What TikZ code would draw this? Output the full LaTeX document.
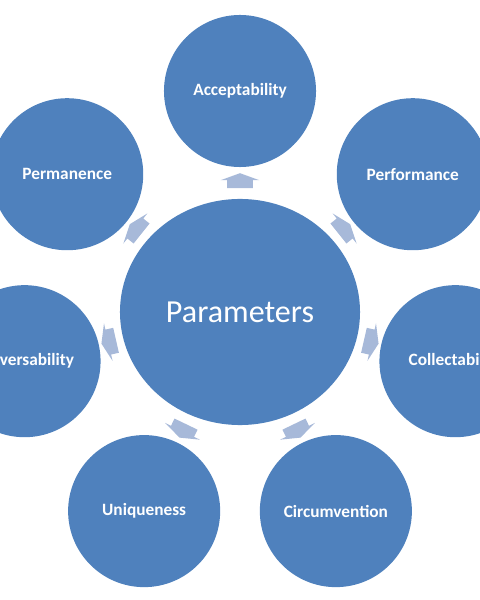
\documentclass[tikz,border=0pt]{standalone}
\usepackage{fontspec}
\setmainfont{Carlito}
\usetikzlibrary{shapes.arrows, shapes.geometric, calc}
\definecolor{smartblue}{HTML}{4F81BD}
\definecolor{flowblue}{HTML}{A7B9D9}

\begin{document}
\begin{tikzpicture}[x=0.025cm, y=0.025cm,
  hub/.style={ellipse, fill=smartblue, minimum width=6cm, minimum height=5.65cm,
    inner sep=0pt, text=white, font=\fontsize{22.8}{27}\selectfont},
  param/.style={circle, fill=smartblue, minimum size=3.8cm, inner sep=0pt,
    text=white, font=\bfseries\fontsize{12.3}{15}\selectfont},
  flow/.style={single arrow, fill=flowblue, inner xsep=0pt, inner ysep=0.3125cm,
    single arrow head extend=0.1625cm, minimum height=0.375cm,
    single arrow tip angle=140, sloped, allow upside down}]
  \clip (0,0) rectangle (480,600);
  \node[hub] (par) at (240,288) {Parameters};
  % seven parameters round the hub, 360/7 apart
  \node[param] (acc)  at ($(par)+(90:221)$)      {Acceptability};
  \node[param] (perf) at ($(par)+(38.57:221)$)   {Performance};
  \node[param] (coll) at ($(par)+(-12.86:221)$)  {Collectability};
  \node[param] (circ) at ($(par)+(-64.29:221)$)  {Circumvention};
  \node[param] (uniq) at ($(par)+(-115.71:221)$) {Uniqueness};
  \node[param] (univ) at ($(par)+(-167.14:221)$) {Universability};
  \node[param] (perm) at ($(par)+(141.43:221)$)  {Permanence};
  \path (par) -- node[flow] {} (acc);
  \path (par) -- node[flow] {} (perf);
  \path (par) -- node[flow] {} (coll);
  \path (par) -- node[flow] {} (circ);
  \path (par) -- node[flow] {} (uniq);
  \path (par) -- node[flow] {} (univ);
  \path (par) -- node[flow] {} (perm);
\end{tikzpicture}
\end{document}
